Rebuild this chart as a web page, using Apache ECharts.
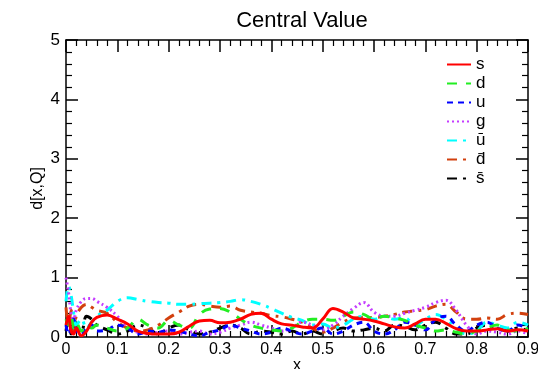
<!DOCTYPE html>
<html>
<head>
<meta charset="utf-8">
<script src="https://cdn.jsdelivr.net/npm/echarts@6/dist/echarts.min.js"></script>
<style>
  html, body { margin: 0; padding: 0; background: #fff; }
  #chart { width: 538px; height: 369px; }
</style>
</head>
<body>
<div id="chart"></div>
<script>
// Parton distributions d[x,Q], central value
const xs = [0, 0.005, 0.01, 0.015, 0.02, 0.03, 0.04, 0.05, 0.06,
  0.08, 0.10, 0.12, 0.14, 0.16, 0.18, 0.20, 0.22, 0.24, 0.26, 0.28, 0.30,
  0.32, 0.34, 0.36, 0.38, 0.40, 0.42, 0.44, 0.46, 0.48, 0.50,
  0.52, 0.54, 0.56, 0.58, 0.60, 0.62, 0.64, 0.66, 0.68, 0.70,
  0.72, 0.74, 0.76, 0.78, 0.80, 0.82, 0.84, 0.86, 0.88, 0.90];

const sQuark = [0.2, 0.35, 0.1, 0.05, 0.15, 0.02, 0.1, 0.25, 0.33,
  0.37, 0.3, 0.22, 0.1, 0.06, 0.05, 0.05, 0.08, 0.18, 0.27, 0.28, 0.24,
  0.25, 0.3, 0.38, 0.4, 0.3, 0.22, 0.2, 0.17, 0.15, 0.3,
  0.48, 0.42, 0.32, 0.3, 0.27, 0.22, 0.17, 0.15, 0.22, 0.3,
  0.3, 0.23, 0.14, 0.1, 0.1, 0.12, 0.14, 0.1, 0.12, 0.1];

const dQuark = [0.3, 0.2, 0.35, 0.15, 0.25, 0.1, 0.2, 0.15, 0.2,
  0.15, 0.1, 0.15, 0.3, 0.2, 0.15, 0.28, 0.2, 0.15, 0.38, 0.47, 0.48,
  0.42, 0.3, 0.2, 0.15, 0.12, 0.1, 0.15, 0.25, 0.3, 0.3,
  0.28, 0.35, 0.42, 0.38, 0.3, 0.35, 0.32, 0.28, 0.2, 0.15,
  0.1, 0.12, 0.08, 0.05, 0.1, 0.15, 0.2, 0.12, 0.1, 0.15];

const uQuark = [0.2, 0.05, 0.15, 0.3, 0.1, 0.05, 0.15, 0.2, 0.1,
  0.12, 0.2, 0.15, 0.05, 0.1, 0.08, 0.12, 0.1, 0.05, 0.02, 0.08, 0.12,
  0.2, 0.15, 0.1, 0.05, 0.08, 0.15, 0.1, 0.05, 0.1, 0.15,
  0.05, 0.1, 0.2, 0.25, 0.1, 0.05, 0.12, 0.25, 0.2, 0.12,
  0.3, 0.35, 0.2, 0.1, 0.2, 0.25, 0.15, 0.1, 0.2, 0.15];

const gluon = [1.0, 0.75, 0.4, 0.3, 0.45, 0.6, 0.65, 0.65, 0.6,
  0.5, 0.35, 0.15, 0.08, 0.05, 0.08, 0.1, 0.05, 0.08, 0.1, 0.05, 0.08,
  0.15, 0.2, 0.25, 0.2, 0.15, 0.1, 0.15, 0.25, 0.2, 0.12,
  0.2, 0.35, 0.48, 0.58, 0.42, 0.35, 0.35, 0.4, 0.45, 0.5,
  0.58, 0.62, 0.45, 0.2, 0.05, 0.1, 0.08, 0.05, 0.1, 0.05];

const uBar = [0.6, 0.85, 0.7, 0.4, 0.2, 0.3, 0.15, 0.25, 0.35,
  0.45, 0.6, 0.66, 0.63, 0.6, 0.58, 0.57, 0.55, 0.55, 0.56, 0.57, 0.58,
  0.6, 0.63, 0.6, 0.55, 0.48, 0.4, 0.33, 0.28, 0.2, 0.22,
  0.15, 0.2, 0.3, 0.35, 0.3, 0.35, 0.3, 0.32, 0.2, 0.3,
  0.38, 0.3, 0.15, 0.05, 0.1, 0.25, 0.2, 0.15, 0.25, 0.2];

const dBar = [0.5, 0.2, 0.45, 0.1, 0.35, 0.5, 0.55, 0.5, 0.45,
  0.4, 0.25, 0.15, 0.1, 0.12, 0.2, 0.32, 0.42, 0.52, 0.55, 0.52, 0.5,
  0.52, 0.45, 0.42, 0.4, 0.36, 0.34, 0.3, 0.25, 0.15, 0.08,
  0.15, 0.25, 0.32, 0.33, 0.33, 0.35, 0.38, 0.42, 0.44, 0.46,
  0.52, 0.55, 0.42, 0.3, 0.3, 0.32, 0.3, 0.38, 0.4, 0.38];

const sBar = [0.1, 0.3, 0.05, 0.35, 0.2, 0.1, 0.35, 0.3, 0.2,
  0.12, 0.05, 0.1, 0.2, 0.15, 0.05, 0.15, 0.2, 0.12, 0.05, 0.08, 0.15,
  0.2, 0.15, 0.05, 0.1, 0.08, 0.05, 0.1, 0.05, 0.1, 0.05,
  0.1, 0.15, 0.1, 0.12, 0.15, 0.1, 0.2, 0.18, 0.12, 0.2,
  0.25, 0.15, 0.05, 0.05, 0.15, 0.2, 0.15, 0.1, 0.15, 0.1];

const names = ['s', 'd', 'u', 'g', 'u\u0304', 'd\u0304', 's\u0304'];
const values = [sQuark, dQuark, uQuark, gluon, uBar, dBar, sBar];
const colors = ['#ff0000', '#22ee22', '#0000ff', '#c43cff', '#00ffff', '#d2400e', '#000000'];
const dashes = ['solid', [10, 9], [6, 5], [2, 3], [10, 6, 3, 6], [10, 6, 3, 6], [10, 6, 3, 6]];

const FONT = 'Liberation Sans';

const series = names.map((n, i) => ({
  name: n,
  type: 'line',
  smooth: 0.4,
  showSymbol: false,
  symbol: 'none',
  data: xs.map((x, k) => [x, values[i][k]]),
  lineStyle: { color: colors[i], width: 3, type: dashes[i] },
  itemStyle: { color: colors[i] },
  z: 10 - i
}));

const frameAxis = {
  axisLine: { onZero: false, lineStyle: { color: '#000', width: 1.5 } },
  axisTick: { show: true, inside: true, length: 12, lineStyle: { color: '#000', width: 1.5 } },
  minorTick: { show: true, splitNumber: 5, length: 6, lineStyle: { color: '#000', width: 1.2 } },
  splitLine: { show: false }
};

const chart = echarts.init(document.getElementById('chart'), null, { renderer: 'canvas' });
chart.setOption({
  animation: false,
  backgroundColor: '#fff',
  title: {
    text: 'Central Value',
    left: 297, top: 5, textAlign: 'center',
    textStyle: { fontFamily: FONT, fontSize: 22, fontWeight: 'normal', color: '#000' }
  },
  legend: {
    orient: 'vertical',
    left: 441, top: 51,
    itemWidth: 24, itemHeight: 10, itemGap: 2,
    itemStyle: { opacity: 0 },
    textStyle: { fontFamily: FONT, fontSize: 17, color: '#000' },
    data: names
  },
  grid: { left: 66, right: 10, top: 40, bottom: 32, outerBoundsMode: 'none', containLabel: false },
  xAxis: [{
    type: 'value', min: 0, max: 0.9, interval: 0.1,
    name: 'x', nameLocation: 'middle', nameGap: 21, nameMoveOverlap: false,
    nameTextStyle: { fontFamily: FONT, fontSize: 16, color: '#000' },
    ...frameAxis,
    axisLabel: { fontFamily: FONT, fontSize: 16, color: '#000', margin: 5,
      formatter: v => (Math.round(v * 10) / 10).toString() }
  }, {
    type: 'value', min: 0, max: 0.9, interval: 0.1, position: 'top',
    ...frameAxis,
    axisLabel: { show: false }
  }],
  yAxis: [{
    type: 'value', min: 0, max: 5, interval: 1,
    name: 'd[x,Q]', nameLocation: 'middle', nameGap: 20, nameRotate: 90, nameMoveOverlap: false,
    nameTextStyle: { fontFamily: FONT, fontSize: 16, color: '#000' },
    ...frameAxis,
    axisLabel: { fontFamily: FONT, fontSize: 17, color: '#000', margin: 6 }
  }, {
    type: 'value', min: 0, max: 5, interval: 1, position: 'right',
    ...frameAxis,
    axisLabel: { show: false }
  }],
  series: series
});
</script>
</body>
</html>
